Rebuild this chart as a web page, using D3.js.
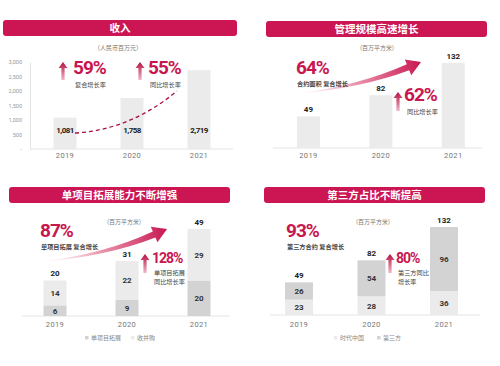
<!DOCTYPE html>
<html>
<head>
<meta charset="utf-8">
<script src="https://cdn.jsdelivr.net/npm/d3@7"></script>
<style>
  body { margin: 0; background: #fff; }
  svg { display: block; font-family: "Noto Sans CJK SC", "Noto Sans", sans-serif; }
</style>
</head>
<body>
<div id="chart"></div>
<script>

// data
var years = ["2019", "2020", "2021"];
var revenue = [1081, 1758, 2719];
var revenueTicks = [0, 500, 1000, 1500, 2000, 2500, 3000];
var managedArea = [49, 82, 132];
var singleProject = [6, 9, 20];
var acquisition = [14, 22, 29];
var timesChina = [23, 28, 36];
var thirdParty = [26, 54, 96];

var titles = ["收入", "管理规模高速增长", "单项目拓展能力不断增强", "第三方占比不断提高"];

var red = "#c8164f";
var light = "#ebebeb";
var dark = "#d3d3d3";
var fmt = d3.format(",");

var svg = d3.select("#chart").append("svg")
    .attr("width", 500)
    .attr("height", 366);

var defs = svg.append("defs");
var gradId = 0;

// header bar with title
function header(x0, x1, y, text) {
    svg.append("rect")
        .attr("x", x0).attr("y", y)
        .attr("width", x1 - x0).attr("height", 16)
        .attr("rx", 3)
        .attr("fill", "#cc1654");
    svg.append("text")
        .attr("x", (x0 + x1) / 2).attr("y", y + 11.5)
        .attr("text-anchor", "middle")
        .attr("fill", "#fff")
        .attr("font-size", 10.5)
        .attr("font-weight", "bold")
        .text(text);
}

function unitText(x, y, text) {
    svg.append("text")
        .attr("x", x).attr("y", y)
        .attr("text-anchor", "middle")
        .attr("fill", "#777")
        .attr("font-size", 6)
        .text(text);
}

function baseline(x0, x1, y) {
    svg.append("line")
        .attr("x1", x0).attr("x2", x1)
        .attr("y1", y).attr("y2", y)
        .attr("stroke", "#e4e4e4");
}

function yearLabels(x, y) {
    svg.append("g").selectAll("text").data(years).enter()
        .append("text")
        .attr("x", function(d){ return x(d); })
        .attr("y", y)
        .attr("text-anchor", "middle")
        .attr("fill", "#777")
        .attr("font-size", 7.5)
        .attr("font-family", "Roboto, sans-serif")
        .attr("letter-spacing", 0.4)
        .text(function(d){ return d; });
}

function bigPct(x, y, size, text) {
    svg.append("text")
        .attr("x", x).attr("y", y)
        .attr("fill", red)
        .attr("font-size", size)
        .attr("font-weight", "bold")
        .attr("font-family", "Roboto, sans-serif")
        .attr("letter-spacing", -1)
        .text(text);
}

function note(x, y, text, weight) {
    svg.append("text")
        .attr("x", x).attr("y", y)
        .attr("fill", "#444")
        .attr("font-size", 6.2)
        .attr("font-weight", weight || "normal")
        .text(text);
}

// small vertical arrow, gradient fading downward
function upArrow(x, top, bottom) {
    var id = "ua" + (gradId++);
    var g = defs.append("linearGradient").attr("id", id)
        .attr("gradientUnits", "userSpaceOnUse")
        .attr("x1", 0).attr("x2", 0).attr("y1", top).attr("y2", bottom);
    g.append("stop").attr("offset", 0).attr("stop-color", "#b5103f");
    g.append("stop").attr("offset", 1).attr("stop-color", "#f1b7c8");
    var p = d3.path();
    p.moveTo(x, top);
    p.lineTo(x + 4.5, top + 6);
    p.lineTo(x + 1.6, top + 6);
    p.lineTo(x + 1.6, bottom);
    p.lineTo(x - 1.6, bottom);
    p.lineTo(x - 1.6, top + 6);
    p.lineTo(x - 4.5, top + 6);
    p.closePath();
    svg.append("path").attr("d", p.toString()).attr("fill", "url(#" + id + ")");
}

// curved swoosh arrow from tail to tip, thickening toward the head
function swoosh(x0, y0, x1, y1, bow) {
    var id = "sw" + (gradId++);
    var g = defs.append("linearGradient").attr("id", id)
        .attr("gradientUnits", "userSpaceOnUse")
        .attr("x1", x0).attr("x2", x1).attr("y1", y0).attr("y2", y1);
    g.append("stop").attr("offset", 0).attr("stop-color", "#f7c9d6").attr("stop-opacity", 0);
    g.append("stop").attr("offset", 0.45).attr("stop-color", "#eb9ab2");
    g.append("stop").attr("offset", 1).attr("stop-color", "#c8164f");

    var dx = x1 - x0, dy = y1 - y0, L = Math.sqrt(dx * dx + dy * dy);
    var ux = dx / L, uy = dy / L;
    var nx = -uy, ny = ux;
    var cx = (x0 + x1) / 2 + nx * bow, cy = (y0 + y1) / 2 + ny * bow;
    var tx = x1 - cx, ty = y1 - cy, tl = Math.sqrt(tx * tx + ty * ty);
    tx /= tl; ty /= tl;
    var mx = -ty, my = tx;
    var h = 14, hw = 8.5, w = 3.2;
    var bx = x1 - tx * h, by = y1 - ty * h;

    var p = d3.path();
    p.moveTo(x0, y0);
    p.quadraticCurveTo(cx - mx * 1.5, cy - my * 1.5, bx - mx * w, by - my * w);
    p.lineTo(bx - mx * hw, by - my * hw);
    p.lineTo(x1, y1);
    p.lineTo(bx + mx * hw, by + my * hw);
    p.lineTo(bx + mx * w, by + my * w);
    p.quadraticCurveTo(cx + mx * 1.5, cy + my * 1.5, x0, y0);
    p.closePath();
    svg.append("path").attr("d", p.toString()).attr("fill", "url(#" + id + ")");
}

function legend(items, y) {
    var lg = svg.append("g");
    items.forEach(function(it) {
        lg.append("rect")
            .attr("x", it.x).attr("y", y - 4)
            .attr("width", 3.5).attr("height", 3.5)
            .attr("fill", it.color);
        lg.append("text")
            .attr("x", it.x + 6).attr("y", y)
            .attr("fill", "#888")
            .attr("font-size", 6)
            .text(it.name);
    });
}

// ---------- panel 1: revenue ----------
header(3, 237, 20, titles[0]);
unitText(118, 50, "（人民币百万元）");

var x1 = d3.scalePoint().domain(years).range([31.5, 232.5]).padding(0.5);
var y1 = d3.scaleLinear().domain([0, 3000]).range([149, 62]);

var yAxis1 = svg.append("g")
    .attr("transform", "translate(30,0)")
    .call(d3.axisLeft(y1).tickValues(revenueTicks).tickSize(0).tickPadding(8)
        .tickFormat(function(d){ return d === 0 ? "-" : fmt(d); }));
yAxis1.select(".domain").attr("stroke", "#e4e4e4");
yAxis1.selectAll("text").attr("fill", "#999").attr("font-size", 5.5)
    .attr("font-family", "Roboto, sans-serif");

baseline(30, 233, 149);

svg.append("g").selectAll("rect").data(revenue).enter()
    .append("rect")
    .attr("x", function(d, i){ return x1(years[i]) - 11.5; })
    .attr("y", function(d){ return y1(d); })
    .attr("width", 23)
    .attr("height", function(d){ return y1(0) - y1(d); })
    .attr("fill", light);

svg.append("g").selectAll("text").data(revenue).enter()
    .append("text")
    .attr("x", function(d, i){ return x1(years[i]); })
    .attr("y", 133)
    .attr("text-anchor", "middle")
    .attr("fill", "#222")
    .attr("font-size", 8)
    .attr("font-weight", "bold")
    .attr("font-family", "Roboto, sans-serif")
    .attr("letter-spacing", -0.6)
    .text(function(d){ return fmt(d); });

yearLabels(x1, 158);

// dashed trend curve
var cp = d3.path();
cp.moveTo(x1(years[0]) + 10, 133);
cp.quadraticCurveTo(130, 130, x1(years[2]) - 22, 91);
svg.append("path").attr("d", cp.toString())
    .attr("fill", "none")
    .attr("stroke", "#a8123f")
    .attr("stroke-width", 1.3)
    .attr("stroke-dasharray", "4,3");

upArrow(63, 62, 80);
bigPct(73, 74, 19, "59%");
note(75, 86.5, "复合增长率");
upArrow(140, 62, 80);
bigPct(148, 74, 19, "55%");
note(150, 86.5, "同比增长率");

// ---------- panel 2: managed area ----------
header(266, 487, 21, titles[1]);
unitText(377, 50, "(百万平方米)");

var x2 = d3.scalePoint().domain(years).range([272.25, 489.5]).padding(0.5);
var y2 = d3.scaleLinear().domain([0, 132]).range([148, 63]);

baseline(273, 482, 148);

svg.append("g").selectAll("rect").data(managedArea).enter()
    .append("rect")
    .attr("x", function(d, i){ return x2(years[i]) - 11.5; })
    .attr("y", function(d){ return y2(d); })
    .attr("width", 23)
    .attr("height", function(d){ return y2(0) - y2(d); })
    .attr("fill", light);

svg.append("g").selectAll("text").data(managedArea).enter()
    .append("text")
    .attr("x", function(d, i){ return x2(years[i]); })
    .attr("y", function(d){ return y2(d) - 4; })
    .attr("text-anchor", "middle")
    .attr("fill", "#222")
    .attr("font-size", 8)
    .attr("font-weight", "bold")
    .attr("font-family", "Roboto, sans-serif")
    .text(function(d){ return d; });

yearLabels(x2, 158);

swoosh(296, 94, 421, 62, 9);
bigPct(296, 74, 19, "64%");
note(297, 85.5, "合约面积 复合增长", "bold");
upArrow(398, 92, 111);
bigPct(404, 101, 19, "62%");
note(407, 113.5, "同比增长率");

// ---------- panel 3: single project vs acquisition ----------
header(9, 230, 187, titles[2]);
unitText(124, 224, "(百万平方米)");

var x3 = d3.scalePoint().domain(years).range([19, 235]).padding(0.5);
var y3 = d3.scaleLinear().domain([0, 49]).range([316, 229]);

baseline(22, 230, 316);

var stack3 = d3.stack().keys([0, 1])(years.map(function(d, i){ return [singleProject[i], acquisition[i]]; }));
var colors3 = [dark, light];

stack3.forEach(function(layer, k) {
    var g = svg.append("g");
    g.selectAll("rect").data(layer).enter()
        .append("rect")
        .attr("x", function(d, i){ return x3(years[i]) - 11.5; })
        .attr("y", function(d){ return y3(d[1]); })
        .attr("width", 23)
        .attr("height", function(d){ return y3(d[0]) - y3(d[1]); })
        .attr("fill", colors3[k]);
    g.selectAll("text").data(layer).enter()
        .append("text")
        .attr("x", function(d, i){ return x3(years[i]); })
        .attr("y", function(d){ return (y3(d[0]) + y3(d[1])) / 2 + 3; })
        .attr("text-anchor", "middle")
        .attr("fill", "#333")
        .attr("font-size", 8)
        .attr("font-weight", "bold")
        .attr("font-family", "Roboto, sans-serif")
        .text(function(d){ return d[1] - d[0]; });
});

svg.append("g").selectAll("text").data(years).enter()
    .append("text")
    .attr("x", function(d){ return x3(d); })
    .attr("y", function(d, i){ return y3(singleProject[i] + acquisition[i]) - 4; })
    .attr("text-anchor", "middle")
    .attr("fill", "#222")
    .attr("font-size", 8)
    .attr("font-weight", "bold")
    .attr("font-family", "Roboto, sans-serif")
    .text(function(d, i){ return singleProject[i] + acquisition[i]; });

yearLabels(x3, 327);
legend([{x: 85, color: dark, name: "单项目拓展"}, {x: 131, color: light, name: "收并购"}], 340);

swoosh(40, 262, 167, 229, 10);
bigPct(40, 237, 19, "87%");
note(41, 249, "单项目拓展 复合增长", "bold");
upArrow(145, 254, 273);
bigPct(152, 263, 14, "128%");
note(154, 274.5, "单项目拓展");
note(154, 283.5, "同比增长率");

// ---------- panel 4: third party share ----------
header(264, 485, 187, titles[3]);
unitText(373, 224, "(百万平方米)");

var x4 = d3.scalePoint().domain(years).range([262.75, 480.25]).padding(0.5);
var y4 = d3.scaleLinear().domain([0, 132]).range([315, 227]);

baseline(270, 480, 315);

var stack4 = d3.stack().keys([0, 1])(years.map(function(d, i){ return [timesChina[i], thirdParty[i]]; }));
var colors4 = [light, dark];

stack4.forEach(function(layer, k) {
    var g = svg.append("g");
    g.selectAll("rect").data(layer).enter()
        .append("rect")
        .attr("x", function(d, i){ return x4(years[i]) - 14; })
        .attr("y", function(d){ return y4(d[1]); })
        .attr("width", 28)
        .attr("height", function(d){ return y4(d[0]) - y4(d[1]); })
        .attr("fill", colors4[k]);
    g.selectAll("text").data(layer).enter()
        .append("text")
        .attr("x", function(d, i){ return x4(years[i]); })
        .attr("y", function(d){ return (y4(d[0]) + y4(d[1])) / 2 + 3; })
        .attr("text-anchor", "middle")
        .attr("fill", "#333")
        .attr("font-size", 8)
        .attr("font-weight", "bold")
        .attr("font-family", "Roboto, sans-serif")
        .text(function(d){ return d[1] - d[0]; });
});

svg.append("g").selectAll("text").data(years).enter()
    .append("text")
    .attr("x", function(d){ return x4(d); })
    .attr("y", function(d, i){ return y4(timesChina[i] + thirdParty[i]) - 4; })
    .attr("text-anchor", "middle")
    .attr("fill", "#222")
    .attr("font-size", 8)
    .attr("font-weight", "bold")
    .attr("font-family", "Roboto, sans-serif")
    .text(function(d, i){ return timesChina[i] + thirdParty[i]; });

yearLabels(x4, 327);
legend([{x: 334, color: light, name: "时代中国"}, {x: 377, color: dark, name: "第三方"}], 340);

bigPct(286, 237, 19, "93%");
note(287, 249, "第三方合约 复合增长", "bold");
upArrow(390, 254, 273);
bigPct(396, 263, 14, "80%");
note(398, 274.5, "第三方同比");
note(398, 283.5, "增长率");

</script>
</body>
</html>
